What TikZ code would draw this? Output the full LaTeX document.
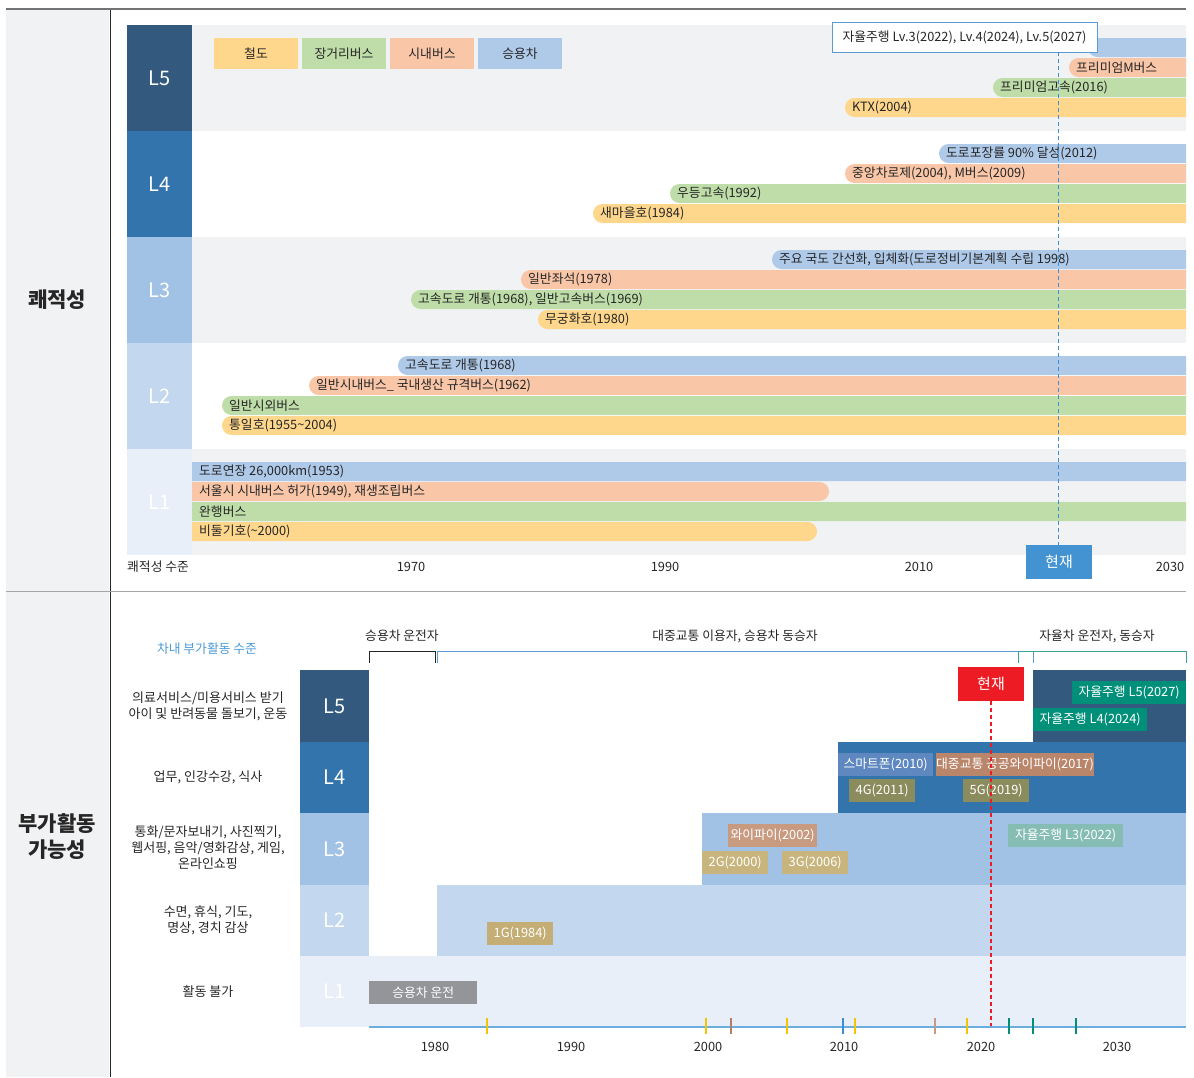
\documentclass[tikz,border=0pt]{standalone}
\usepackage{fontspec}
\setmainfont{Noto Sans CJK KR}
\definecolor{navy}{HTML}{335A7E}
\definecolor{bfour}{HTML}{3474AD}
\definecolor{bthree}{HTML}{A1C2E4}
\definecolor{btwo}{HTML}{C3D7EE}
\definecolor{bone}{HTML}{E8EFF8}
\definecolor{rowgray}{HTML}{F1F2F4}
\definecolor{cyel}{HTML}{FED68C}
\definecolor{cgrn}{HTML}{BEDDA8}
\definecolor{corg}{HTML}{F9C6A8}
\definecolor{cblu}{HTML}{AFC9E8}
\definecolor{nowblue}{HTML}{4393D3}
\definecolor{dashblue}{HTML}{3A8FD9}
\definecolor{nowred}{HTML}{ED1C24}
\definecolor{tealc}{HTML}{00907A}
\definecolor{teallt}{HTML}{85BDB5}
\definecolor{smartc}{HTML}{5E88BF}
\definecolor{brownc}{HTML}{B9856B}
\definecolor{wific}{HTML}{C89A80}
\definecolor{olivec}{HTML}{8B8C5E}
\definecolor{khakic}{HTML}{C8B47D}
\definecolor{khakid}{HTML}{C4AE76}
\definecolor{tagray}{HTML}{949599}
\definecolor{axisblue}{HTML}{6AAEE0}
\definecolor{tyel}{HTML}{F5C400}
\definecolor{tbrn}{HTML}{B07F68}
\definecolor{tpink}{HTML}{C49A8A}
\definecolor{brkblue}{HTML}{5B9BD5}
\definecolor{brkteal}{HTML}{3AA394}
\definecolor{txt}{HTML}{262626}
\definecolor{labelblue}{HTML}{4A9AD6}
\tikzset{
  bartext/.style={anchor=west, inner sep=0, text=txt, font=\fontsize{12.8}{14}\selectfont},
  lvlbox/.style={inner sep=0, text=white, font=\fontsize{20}{22}\selectfont},
  legbox/.style={inner sep=0, minimum width=84, minimum height=31, text=txt, font=\fontsize{12.8}{14}\selectfont},
  yeartext/.style={inner sep=0, text=txt, font=\fontsize{12.8}{14}\selectfont},
  desc/.style={inner sep=0, text=txt, align=center, font=\fontsize{13}{16}\selectfont},
  tagbox/.style={anchor=north west, inner sep=0, minimum height=23, text=white, font=\fontsize{12.8}{14}\selectfont},
  nowbox/.style={inner sep=0, minimum width=66, minimum height=34, text=white, font=\fontsize{15}{16}\selectfont},
  bigtitle/.style={inner sep=0, text=txt, align=center, font=\fontsize{21}{26}\selectfont\bfseries},
  bartick/.style={line width=2.2}
}
\begin{document}
\begin{tikzpicture}[x=1pt,y=-1pt]
\useasboundingbox (0,0) rectangle (1194,1077);
% frame
\fill[rowgray] (6,10) rectangle (109,1077);
\draw[black!55, line width=1.5] (6,9) -- (1186,9);
\draw[black!85, line width=1] (110,10) -- (110,1077);
\draw[black!35, line width=1] (6,591) -- (1186,591);
\node[bigtitle] (tA) at (57,300) {쾌적성};
\node[bigtitle] (tB) at (57,837) {부가활동\\가능성};

% ===== top chart =====
\fill[rowgray] (192,25) rectangle (1186,131);
\fill[rowgray] (192,237) rectangle (1186,343);
\fill[rowgray] (192,449) rectangle (1186,555);
\begin{scope}
\clip (127,0) rectangle (1186,600);
% L5
\fill[cblu, rounded corners=9.5] (1088,38) rectangle (1210,57);
\fill[corg, rounded corners=9.5] (1069,58) rectangle (1210,77);
\fill[cgrn, rounded corners=9.5] (993,78) rectangle (1210,97);
\fill[cyel, rounded corners=9.5] (845,98) rectangle (1210,117);
% L4
\fill[cblu, rounded corners=9.5] (939,144) rectangle (1210,163);
\fill[corg, rounded corners=9.5] (845,164) rectangle (1210,183);
\fill[cgrn, rounded corners=9.5] (670,184) rectangle (1210,203);
\fill[cyel, rounded corners=9.5] (593,204) rectangle (1210,223);
% L3
\fill[cblu, rounded corners=9.5] (772,250) rectangle (1210,269);
\fill[corg, rounded corners=9.5] (521,270) rectangle (1210,289);
\fill[cgrn, rounded corners=9.5] (411,290) rectangle (1210,309);
\fill[cyel, rounded corners=9.5] (538,310) rectangle (1210,329);
% L2
\fill[cblu, rounded corners=9.5] (398,356) rectangle (1210,375);
\fill[corg, rounded corners=9.5] (309,376) rectangle (1210,395);
\fill[cgrn, rounded corners=9.5] (222,396) rectangle (1210,415);
\fill[cyel, rounded corners=9.5] (222,416) rectangle (1210,435);
% L1
\fill[cblu, rounded corners=9.5] (170,462) rectangle (1210,481);
\fill[corg, rounded corners=9.5] (170,482) rectangle (829,501);
\fill[cgrn, rounded corners=9.5] (170,502) rectangle (1210,521);
\fill[cyel, rounded corners=9.5] (170,522) rectangle (817,541);
\end{scope}
% bar labels
\node[bartext] (b5o) at (1076,67.5) {프리미엄M버스};
\node[bartext] (b5g) at (1000,87.5) {프리미엄고속(2016)};
\node[bartext] (b5y) at (852,107.5) {KTX(2004)};
\node[bartext] (b4b) at (946,153.5) {도로포장률 90\% 달성(2012)};
\node[bartext] (b4o) at (852,173.5) {중앙차로제(2004), M버스(2009)};
\node[bartext] (b4g) at (677,193.5) {우등고속(1992)};
\node[bartext] (b4y) at (600,213.5) {새마을호(1984)};
\node[bartext] (b3b) at (779,259.5) {주요 국도 간선화, 입체화(도로정비기본계획 수립 1998)};
\node[bartext] (b3o) at (528,279.5) {일반좌석(1978)};
\node[bartext] (b3g) at (418,299.5) {고속도로 개통(1968), 일반고속버스(1969)};
\node[bartext] (b3y) at (545,319.5) {무궁화호(1980)};
\node[bartext] (b2b) at (405,365.5) {고속도로 개통(1968)};
\node[bartext] (b2o) at (316,385.5) {일반시내버스\_ 국내생산 규격버스(1962)};
\node[bartext] (b2g) at (229,405.5) {일반시외버스};
\node[bartext] (b2y) at (229,425.5) {통일호(1955\textasciitilde2004)};
\node[bartext] (b1b) at (199,471.5) {도로연장 26,000km(1953)};
\node[bartext] (b1o) at (199,491.5) {서울시 시내버스 허가(1949), 재생조립버스};
\node[bartext] (b1g) at (199,511.5) {완행버스};
\node[bartext] (b1y) at (199,531.5) {비둘기호(\textasciitilde2000)};
% level boxes top
\node[lvlbox, fill=navy, minimum width=65, minimum height=106] (T5) at (159.5,78) {L5};
\node[lvlbox, fill=bfour, minimum width=65, minimum height=106] (T4) at (159.5,184) {L4};
\node[lvlbox, fill=bthree, minimum width=65, minimum height=106] (T3) at (159.5,290) {L3};
\node[lvlbox, fill=btwo, minimum width=65, minimum height=106] (T2) at (159.5,396) {L2};
\node[lvlbox, fill=bone, minimum width=65, minimum height=106] (T1) at (159.5,502) {L1};
% legend
\node[legbox, fill=cyel] (lg1) at (256,53.5) {철도};
\node[legbox, fill=cgrn] (lg2) at (344,53.5) {장거리버스};
\node[legbox, fill=corg] (lg3) at (432,53.5) {시내버스};
\node[legbox, fill=cblu] (lg4) at (520,53.5) {승용차};
% callout, now marker
\node[draw=brkblue, fill=white, line width=1, inner sep=0, minimum width=265, minimum height=30, text=txt, font=\fontsize{12.8}{14}\selectfont] (callout) at (964.5,37) {자율주행 Lv.3(2022), Lv.4(2024), Lv.5(2027)};
\node[nowbox, fill=nowblue] (nowA) at (1059,562) {현재};
\draw[dashblue, line width=1.1, dash pattern=on 4 off 3] (1058.5,52) -- (nowA.north -| 1058.5,0);
% axis
\node[yeartext, anchor=west] (axA) at (127,567) {쾌적성 수준};
\node[yeartext] (y1970) at (411,567) {1970};
\node[yeartext] (y1990) at (665,567) {1990};
\node[yeartext] (y2010) at (919,567) {2010};
\node[yeartext] (y2030) at (1170,567) {2030};

% ===== bottom chart =====
\node[inner sep=0, text=labelblue, font=\fontsize{12.8}{14}\selectfont] (hdr) at (207,649) {차내 부가활동 수준};
\node[yeartext] (grpA) at (402,636) {승용차 운전자};
\node[yeartext] (grpB) at (735,636) {대중교통 이용자, 승용차 동승자};
\node[yeartext] (grpC) at (1097,636) {자율차 운전자, 동승자};
\draw[black!85, line width=1] (369,663) -- (369,651) -- (435,651) -- (435,663);
\draw[brkblue, line width=1] (437,663) -- (437,651) -- (1033,651) -- (1033,663);
\draw[brkteal, line width=1] (1018,663) -- (1018,651) -- (1186,651) -- (1186,663);
% rows
\fill[bone] (369,956) rectangle (1186,1027);
\fill[btwo] (437,885) rectangle (1186,956);
\fill[bthree] (702,813) rectangle (1186,885);
\fill[bfour] (838,742) rectangle (1186,813);
\fill[navy] (1033,670) rectangle (1186,742);
% level boxes bottom
\node[lvlbox, fill=navy, minimum width=69, minimum height=72] (B5) at (334.5,706) {L5};
\node[lvlbox, fill=bfour, minimum width=69, minimum height=71] (B4) at (334.5,777.5) {L4};
\node[lvlbox, fill=bthree, minimum width=69, minimum height=72] (B3) at (334.5,849) {L3};
\node[lvlbox, fill=btwo, minimum width=69, minimum height=71] (B2) at (334.5,920.5) {L2};
\node[lvlbox, fill=bone, minimum width=69, minimum height=71] (B1) at (334.5,991.5) {L1};
% descriptions
\node[desc] (d5) at (208,706) {의료서비스/미용서비스 받기\\아이 및 반려동물 돌보기, 운동};
\node[desc] (d4) at (208,777) {업무, 인강수강, 식사};
\node[desc] (d3) at (208,848) {통화/문자보내기, 사진찍기,\\웹서핑, 음악/영화감상, 게임,\\온라인쇼핑};
\node[desc] (d2) at (208,920) {수면, 휴식, 기도,\\명상, 경치 감상};
\node[desc] (d1) at (208,992) {활동 불가};
% tags
\node[tagbox, fill=tealc, minimum width=114] (tg5) at (1072,681) {자율주행 L5(2027)};
\node[tagbox, fill=tealc, minimum width=114] (tg4) at (1033,708) {자율주행 L4(2024)};
\node[tagbox, fill=smartc, minimum width=95] (tgs) at (838,753) {스마트폰(2010)};
\node[tagbox, fill=brownc, minimum width=156] (tgw) at (936,753) {대중교통 공공와이파이(2017)};
\node[tagbox, fill=olivec, minimum width=66] (tg4g) at (849,779) {4G(2011)};
\node[tagbox, fill=olivec, minimum width=66] (tg5g) at (963,779) {5G(2019)};
\node[tagbox, fill=wific, minimum width=89] (tgwf) at (728,824) {와이파이(2002)};
\node[tagbox, fill=teallt, minimum width=115] (tg3) at (1008,824) {자율주행 L3(2022)};
\node[tagbox, fill=khakic, minimum width=66] (tg2g) at (702,851) {2G(2000)};
\node[tagbox, fill=khakic, minimum width=66] (tg3g) at (782,851) {3G(2006)};
\node[tagbox, fill=khakid, minimum width=66] (tg1g) at (487,922) {1G(1984)};
\node[tagbox, fill=tagray, minimum width=108] (tgd) at (369,981) {승용차 운전};
% now marker bottom
\node[nowbox, fill=nowred] (nowB) at (991,684) {현재};
\coordinate (nowEnd) at (991,1027);
\draw[nowred, line width=1.2, dash pattern=on 4 off 3] (nowB.south) -- (nowEnd);
% axis bottom
\draw[axisblue, line width=2] (369,1027) -- (1186,1027);
\draw[bartick, tyel] (487,1018) -- (487,1034);
\draw[bartick, tyel] (706,1018) -- (706,1034);
\draw[bartick, tbrn] (731,1018) -- (731,1034);
\draw[bartick, tyel] (787,1018) -- (787,1034);
\draw[bartick, dashblue] (843,1018) -- (843,1034);
\draw[bartick, tyel] (855,1018) -- (855,1034);
\draw[bartick, tpink] (935,1018) -- (935,1034);
\draw[bartick, tyel] (967,1018) -- (967,1034);
\draw[bartick, tealc] (1009,1018) -- (1009,1034);
\draw[bartick, tealc] (1033,1018) -- (1033,1034);
\draw[bartick, tealc] (1076,1018) -- (1076,1034);
\node[yeartext] (z1980) at (435,1047) {1980};
\node[yeartext] (z1990) at (571,1047) {1990};
\node[yeartext] (z2000) at (708,1047) {2000};
\node[yeartext] (z2010) at (844,1047) {2010};
\node[yeartext] (z2020) at (981,1047) {2020};
\node[yeartext] (z2030) at (1117,1047) {2030};
\end{tikzpicture}
\end{document}
